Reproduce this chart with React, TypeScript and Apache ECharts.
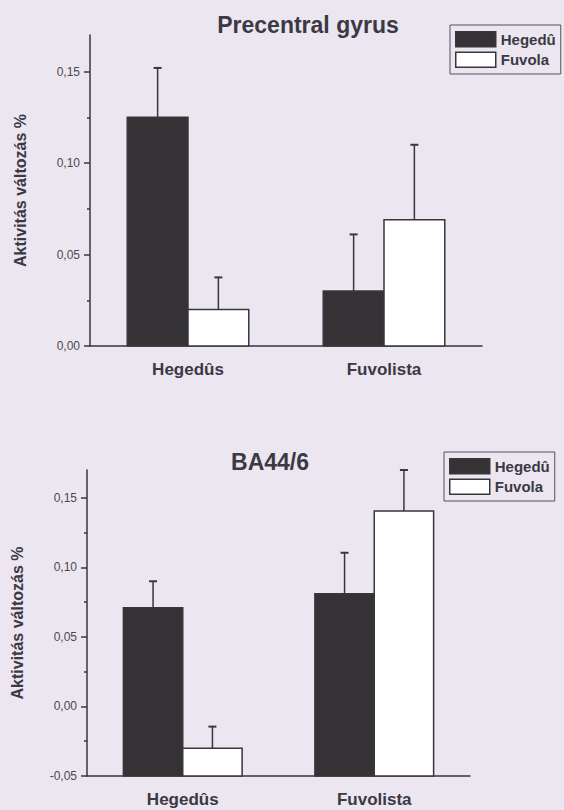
import React, { useEffect, useRef } from 'react';
import * as echarts from 'echarts';

// ---------- data ----------
const categories = ['Hegedûs', 'Fuvolista'];
const seriesNames = ['Hegedû', 'Fuvola'];

const topTitle = 'Precentral gyrus';
const topHegedu = [0.125, 0.03];
const topHeguSd = [0.027, 0.031];
const topFuvola = [0.02, 0.069];
const topFuvolaSd = [0.0175, 0.041];
const topMin = 0;
const topMax = 0.17;
const topTicks = [0, 0.05, 0.1, 0.15];
const topMinorTicks = [0.025, 0.075, 0.125];

const bottomTitle = 'BA44/6';
const bottomHegedu = [0.071, 0.081];
const bottomHeguSd = [0.019, 0.0295];
const bottomFuvola = [-0.03, 0.1405];
const bottomFuvolaSd = [0.0155, 0.0295];
const bottomMin = -0.05;
const bottomMax = 0.17;
const bottomTicks = [-0.05, 0, 0.05, 0.1, 0.15];
const bottomMinorTicks = [-0.025, 0.025, 0.075, 0.125];

const yAxisName = 'Aktivitás változás %';

// ---------- styles ----------
const BG = '#ece6f0';
const INK = '#38363d';
const TEXT = '#3a3944';
const DARK = '#353236';
const FONT = 'Arial, "Liberation Sans", Helvetica, sans-serif';

const fmt = (v: number) => v.toFixed(2).replace('.', ',');

function barRenderer(side: number, yMin: number) {
  return (params: any, api: any) => {
    const cat = api.value(0);
    const val = api.value(1);
    const band = api.size([1, 0])[0];
    const w = band * 0.31;
    const top = api.coord([cat, val]);
    const base = api.coord([cat, yMin]);
    const x = side < 0 ? top[0] - w : top[0];
    return {
      type: 'rect',
      shape: { x, y: Math.min(top[1], base[1]), width: w, height: Math.abs(base[1] - top[1]) },
      style: { fill: api.visual('color'), stroke: INK, lineWidth: 1.5 },
    };
  };
}

function errRenderer(side: number) {
  return (params: any, api: any) => {
    const cat = api.value(0);
    const mean = api.value(1);
    const sd = api.value(2);
    const band = api.size([1, 0])[0];
    const w = band * 0.31;
    const p0 = api.coord([cat, mean]);
    const p1 = api.coord([cat, mean + sd]);
    const cx = p0[0] + (side * w) / 2;
    return {
      type: 'group',
      children: [
        { type: 'line', shape: { x1: cx, y1: p0[1], x2: cx, y2: p1[1] }, style: { stroke: INK, lineWidth: 1.5 } },
        { type: 'line', shape: { x1: cx - 4, y1: p1[1], x2: cx + 4, y2: p1[1] }, style: { stroke: INK, lineWidth: 2 } },
      ],
    };
  };
}

function mainY(gridIndex: number, min: number, max: number, ticks: number[]) {
  return {
    type: 'value',
    gridIndex,
    min,
    max,
    position: 'left',
    name: yAxisName,
    nameLocation: 'middle',
    nameRotate: 90,
    nameGap: 62,
    nameTextStyle: { color: TEXT, fontFamily: FONT, fontWeight: 'bold', fontSize: 16 },
    axisLine: { show: true, lineStyle: { color: INK, width: 1.5 } },
    axisTick: { show: true, length: 6, customValues: ticks, lineStyle: { color: INK, width: 1.5 } },
    axisLabel: {
      customValues: ticks,
      formatter: (v: number) => fmt(v),
      color: '#4a4953',
      fontFamily: FONT,
      fontSize: 12,
      margin: 10,
    },
    splitLine: { show: false },
  };
}

function minorY(gridIndex: number, min: number, max: number, ticks: number[]) {
  return {
    type: 'value',
    gridIndex,
    min,
    max,
    position: 'left',
    axisLine: { show: false },
    axisTick: { show: true, length: 3, customValues: ticks, lineStyle: { color: INK, width: 1.5 } },
    axisLabel: { show: false },
    splitLine: { show: false },
  };
}

function xAxis(gridIndex: number) {
  return {
    type: 'category',
    gridIndex,
    data: categories,
    axisLine: { show: true, onZero: false, lineStyle: { color: INK, width: 1.5 } },
    axisTick: { show: false },
    axisLabel: { color: TEXT, fontFamily: FONT, fontWeight: 'bold', fontSize: 17, margin: 15 },
    splitLine: { show: false },
  };
}

function legend(left: number, top: number) {
  return {
    left,
    top,
    orient: 'vertical',
    selectedMode: false,
    borderColor: '#55535a',
    borderWidth: 1,
    padding: [6, 5, 6, 5],
    itemWidth: 40,
    itemHeight: 15,
    itemGap: 4,
    textStyle: { color: TEXT, fontFamily: FONT, fontWeight: 'bold', fontSize: 15 },
    data: [
      { name: seriesNames[0], icon: 'rect', itemStyle: { color: DARK, borderColor: INK, borderWidth: 1.5 } },
      { name: seriesNames[1], icon: 'rect', itemStyle: { color: '#ffffff', borderColor: INK, borderWidth: 1.5 } },
    ],
  };
}

function chartSeries(
  xIdx: number,
  yIdx: number,
  yMin: number,
  heg: number[],
  hegSd: number[],
  fuv: number[],
  fuvSd: number[]
) {
  return [
    {
      name: seriesNames[0],
      type: 'custom',
      xAxisIndex: xIdx,
      yAxisIndex: yIdx,
      itemStyle: { color: DARK, borderColor: INK, borderWidth: 1.5 },
      renderItem: barRenderer(-1, yMin),
      data: heg.map((v, i) => [i, v]),
      z: 2,
    },
    {
      name: seriesNames[1],
      type: 'custom',
      xAxisIndex: xIdx,
      yAxisIndex: yIdx,
      itemStyle: { color: '#ffffff', borderColor: INK, borderWidth: 1.5 },
      renderItem: barRenderer(1, yMin),
      data: fuv.map((v, i) => [i, v]),
      z: 2,
    },
    {
      name: seriesNames[0] + ' SD',
      type: 'custom',
      xAxisIndex: xIdx,
      yAxisIndex: yIdx,
      renderItem: errRenderer(-1),
      data: heg.map((v, i) => [i, v, hegSd[i]]),
      z: 1,
    },
    {
      name: seriesNames[1] + ' SD',
      type: 'custom',
      xAxisIndex: xIdx,
      yAxisIndex: yIdx,
      renderItem: errRenderer(1),
      data: fuv.map((v, i) => [i, v, fuvSd[i]]),
      z: 1,
    },
  ];
}

export default function App() {
  const ref = useRef<HTMLDivElement>(null);

  useEffect(() => {
    document.body.style.margin = '0';
    document.body.style.background = BG;
    if (!ref.current) return;
    const chart = echarts.init(ref.current, undefined, { renderer: 'svg' });
    chart.setOption({
      animation: false,
      backgroundColor: BG,
      title: [
        {
          text: topTitle,
          left: 303,
          top: 8,
          textAlign: 'center',
          textStyle: { color: TEXT, fontFamily: FONT, fontWeight: 'bold', fontSize: 23 },
        },
        {
          text: bottomTitle,
          left: 265,
          top: 445,
          textAlign: 'center',
          textStyle: { color: TEXT, fontFamily: FONT, fontWeight: 'bold', fontSize: 23 },
        },
      ],
      legend: [legend(450, 25), legend(444, 452)],
      grid: [
        { left: 90, top: 35, width: 392, height: 311 },
        { left: 87, top: 470, width: 383, height: 306 },
      ],
      xAxis: [xAxis(0), xAxis(1)],
      yAxis: [
        mainY(0, topMin, topMax, topTicks),
        minorY(0, topMin, topMax, topMinorTicks),
        mainY(1, bottomMin, bottomMax, bottomTicks),
        minorY(1, bottomMin, bottomMax, bottomMinorTicks),
      ],
      series: [
        ...chartSeries(0, 0, topMin, topHegedu, topHeguSd, topFuvola, topFuvolaSd),
        ...chartSeries(1, 2, bottomMin, bottomHegedu, bottomHeguSd, bottomFuvola, bottomFuvolaSd),
      ],
    });
    return () => chart.dispose();
  }, []);

  return <div ref={ref} style={{ width: 564, height: 810 }} />;
}
